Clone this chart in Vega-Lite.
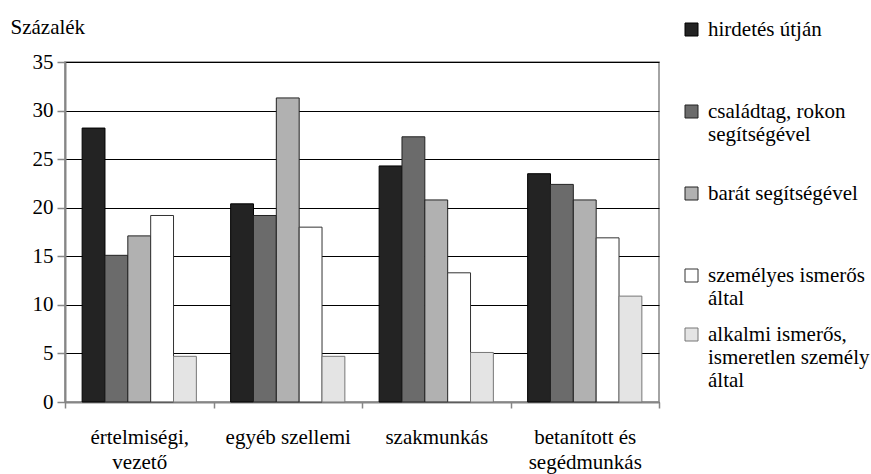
{
  "$schema": "https://vega.github.io/schema/vega-lite/v6.json",
  "width": 594,
  "height": 340,
  "autosize": {"type": "none"},
  "padding": {"left": 65, "top": 62, "right": 212, "bottom": 72},
  "config": {
    "font": "Liberation Serif",
    "view": {"stroke": "#868686", "strokeWidth": 1.5},
    "style": {"guide-label": {"font": "Liberation Serif"}, "guide-title": {"font": "Liberation Serif"}}
  },
  "data": {"values": [
    {"kat": "értelmiségi, vezető", "mod": "hirdetés útján", "v": 28.2},
    {"kat": "értelmiségi, vezető", "mod": "családtag, rokon segítségével", "v": 15.1},
    {"kat": "értelmiségi, vezető", "mod": "barát segítségével", "v": 17.1},
    {"kat": "értelmiségi, vezető", "mod": "személyes ismerős által", "v": 19.2},
    {"kat": "értelmiségi, vezető", "mod": "alkalmi ismerős, ismeretlen személy által", "v": 4.7},
    {"kat": "egyéb szellemi", "mod": "hirdetés útján", "v": 20.4},
    {"kat": "egyéb szellemi", "mod": "családtag, rokon segítségével", "v": 19.2},
    {"kat": "egyéb szellemi", "mod": "barát segítségével", "v": 31.3},
    {"kat": "egyéb szellemi", "mod": "személyes ismerős által", "v": 18.0},
    {"kat": "egyéb szellemi", "mod": "alkalmi ismerős, ismeretlen személy által", "v": 4.7},
    {"kat": "szakmunkás", "mod": "hirdetés útján", "v": 24.3},
    {"kat": "szakmunkás", "mod": "családtag, rokon segítségével", "v": 27.3},
    {"kat": "szakmunkás", "mod": "barát segítségével", "v": 20.8},
    {"kat": "szakmunkás", "mod": "személyes ismerős által", "v": 13.3},
    {"kat": "szakmunkás", "mod": "alkalmi ismerős, ismeretlen személy által", "v": 5.1},
    {"kat": "betanított és segédmunkás", "mod": "hirdetés útján", "v": 23.5},
    {"kat": "betanított és segédmunkás", "mod": "családtag, rokon segítségével", "v": 22.4},
    {"kat": "betanított és segédmunkás", "mod": "barát segítségével", "v": 20.8},
    {"kat": "betanított és segédmunkás", "mod": "személyes ismerős által", "v": 16.9},
    {"kat": "betanított és segédmunkás", "mod": "alkalmi ismerős, ismeretlen személy által", "v": 10.9}
  ]},
  "mark": {"type": "bar", "strokeWidth": 1},
  "encoding": {
    "x": {
      "field": "kat", "type": "nominal",
      "sort": ["értelmiségi, vezető", "egyéb szellemi", "szakmunkás", "betanított és segédmunkás"],
      "scale": {"paddingInner": 0, "paddingOuter": 0},
      "axis": {
        "title": null, "labelAngle": 0, "labelFont": "Liberation Serif", "labelFontSize": 21, "labelColor": "#000",
        "tickBand": "extent", "tickColor": "#868686", "tickSize": 6, "tickWidth": 1.5,
        "domainColor": "#868686", "domainWidth": 2, "labelPadding": 18,
        "labelBaseline": "top", "labelLineHeight": 25, "labelLimit": 300,
        "labelExpr": "datum.label == 'értelmiségi, vezető' ? ['értelmiségi,', 'vezető'] : datum.label == 'betanított és segédmunkás' ? ['betanított és', 'segédmunkás'] : datum.label"
      }
    },
    "xOffset": {
      "field": "mod", "type": "nominal",
      "sort": ["hirdetés útján", "családtag, rokon segítségével", "barát segítségével", "személyes ismerős által", "alkalmi ismerős, ismeretlen személy által"],
      "scale": {"paddingInner": 0, "paddingOuter": 0.75}
    },
    "y": {
      "field": "v", "type": "quantitative",
      "scale": {"domain": [0, 35]},
      "axis": {
        "title": "Százalék", "titleAngle": 0, "titleAlign": "left", "titleBaseline": "alphabetic",
        "titleX": -55, "titleY": -29, "titleFont": "Liberation Serif", "titleFontSize": 21, "titleFontWeight": "normal", "titleColor": "#000",
        "values": [0, 5, 10, 15, 20, 25, 30, 35],
        "labelFont": "Liberation Serif", "labelFontSize": 21, "labelColor": "#000", "labelPadding": 4,
        "tickColor": "#868686", "tickSize": 8, "tickWidth": 1.5,
        "domainColor": "#868686", "domainWidth": 2,
        "gridColor": "#000", "gridWidth": 1
      }
    },
    "fill": {
      "field": "mod", "type": "nominal",
      "scale": {
        "domain": ["hirdetés útján", "családtag, rokon segítségével", "barát segítségével", "személyes ismerős által", "alkalmi ismerős, ismeretlen személy által"],
        "range": ["#232323", "#6b6b6b", "#b1b1b1", "#ffffff", "#e4e4e4"]
      },
      "legend": {
        "title": null, "orient": "none", "legendX": 616, "legendY": -43,
        "labelFont": "Liberation Serif", "labelFontSize": 21, "labelColor": "#000", "labelLimit": 300,
        "symbolType": "square", "symbolSize": 169, "symbolStrokeColor": "#222", "symbolStrokeWidth": 1,
        "labelOffset": 6, "rowPadding": 14, "padding": 0, "labelBaseline": "middle",
        "labelExpr": "datum.label == 'hirdetés útján' ? ['hirdetés útján', '', ''] : datum.label == 'családtag, rokon segítségével' ? ['családtag, rokon', 'segítségével', ''] : datum.label == 'barát segítségével' ? ['barát segítségével', '', ''] : datum.label == 'személyes ismerős által' ? ['személyes ismerős', 'által'] : ['alkalmi ismerős,', 'ismeretlen személy', 'által']"
      }
    },
    "stroke": {
      "field": "mod", "type": "nominal",
      "scale": {
        "domain": ["hirdetés útján", "családtag, rokon segítségével", "barát segítségével", "személyes ismerős által", "alkalmi ismerős, ismeretlen személy által"],
        "range": ["#000000", "#222222", "#222222", "#333333", "#777777"]
      },
      "legend": null
    }
  }
}
